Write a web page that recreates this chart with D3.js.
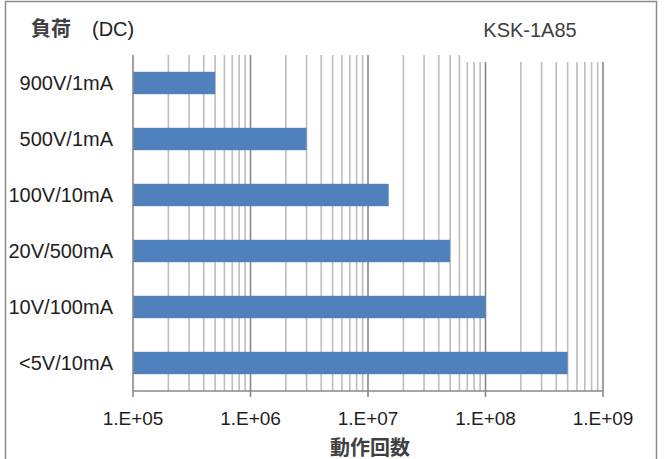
<!DOCTYPE html>
<html>
<head>
<meta charset="utf-8">
<script src="https://cdn.jsdelivr.net/npm/d3@7"></script>
<style>
  body { margin: 0; background: #fff; }
  text { font-family: "Liberation Sans", Arial, "Noto Sans CJK JP", sans-serif; }
</style>
</head>
<body>
<svg id="chart"></svg>
<script>
// load conditions, top to bottom
const categories = ["900V/1mA", "500V/1mA", "100V/10mA", "20V/500mA", "10V/100mA", "<5V/10mA"];
// operation counts
const counts = [5e5, 3e6, 1.5e7, 5e7, 1e8, 5e8];
const tickValues = [1e5, 1e6, 1e7, 1e8, 1e9];
const tickLabels = ["1.E+05", "1.E+06", "1.E+07", "1.E+08", "1.E+09"];

const width = 665, height = 459;
const margin = {top: 55, left: 133, right: 62, bottom: 68};

const svg = d3.select("#chart")
    .attr("width", width)
    .attr("height", height);

//outer frame
svg.append("rect")
    .attr("x", 5.5).attr("y", 1.5)
    .attr("width", 651).attr("height", 470)
    .attr("fill", "#fff")
    .attr("stroke", "#8c8c8c")
    .attr("stroke-width", 1.5);

const x = d3.scaleLog()
    .domain([1e5, 1e9])
    .range([margin.left, width - margin.right]);

const y = d3.scaleBand()
    .domain(categories)
    .range([margin.top, height - margin.bottom])
    .paddingInner(0.6)
    .paddingOuter(0.3);

//minor + major gridlines
const minor = [];
for (let e = 5; e < 9; e++) {
    for (let m = 2; m <= 9; m++) minor.push(m * Math.pow(10, e));
}
svg.append("g").selectAll("line")
    .data(minor)
    .enter().append("line")
    .attr("x1", d => x(d)).attr("x2", d => x(d))
    .attr("y1", margin.top).attr("y2", height - margin.bottom)
    .attr("stroke", "#bdbdbd")
    .attr("stroke-width", 1.6);

svg.append("g").selectAll("line")
    .data(tickValues.slice(1))
    .enter().append("line")
    .attr("x1", d => x(d)).attr("x2", d => x(d))
    .attr("y1", margin.top).attr("y2", height - margin.bottom + 6)
    .attr("stroke", "#888")
    .attr("stroke-width", 1.6);

//title box hides the top of the lines on the right
svg.append("rect")
    .attr("x", 464).attr("y", 8)
    .attr("width", 150).attr("height", 54)
    .attr("fill", "#fff");

//bars
svg.append("g").selectAll("rect")
    .data(categories)
    .enter().append("rect")
    .attr("x", x(1e5))
    .attr("y", d => y(d))
    .attr("width", (d, i) => x(counts[i]) - x(1e5))
    .attr("height", y.bandwidth())
    .attr("fill", "#4f81bd");

//axes lines
const axisY = height - margin.bottom;
svg.append("line")
    .attr("x1", x(1e5)).attr("x2", x(1e9))
    .attr("y1", axisY).attr("y2", axisY)
    .attr("stroke", "#888").attr("stroke-width", 1.6);
svg.append("line")
    .attr("x1", x(1e5)).attr("x2", x(1e5))
    .attr("y1", margin.top).attr("y2", axisY + 6)
    .attr("stroke", "#888").attr("stroke-width", 1.6);

//tick labels
svg.append("g").selectAll("text")
    .data(tickValues)
    .enter().append("text")
    .attr("x", d => x(d))
    .attr("y", 425)
    .attr("text-anchor", "middle")
    .style("font-size", "19px")
    .style("fill", "#1e1e1e")
    .text((d, i) => tickLabels[i]);

//category labels
svg.append("g").selectAll("text")
    .data(categories)
    .enter().append("text")
    .attr("x", 113)
    .attr("y", d => y(d) + y.bandwidth() / 2 + 7)
    .attr("text-anchor", "end")
    .style("font-size", "20px")
    .style("fill", "#1e1e1e")
    .text(d => d);

//titles
svg.append("text")
    .attr("x", 31).attr("y", 36)
    .style("font-size", "20px")
    .style("font-weight", "bold")
    .style("fill", "#404040")
    .text("負荷");
svg.append("text")
    .attr("x", 92).attr("y", 36)
    .style("font-size", "20px")
    .style("fill", "#222")
    .text("(DC)");

svg.append("text")
    .attr("x", 530).attr("y", 37)
    .attr("text-anchor", "middle")
    .style("font-size", "20px")
    .style("fill", "#404040")
    .text("KSK-1A85");

svg.append("text")
    .attr("x", 370).attr("y", 455)
    .attr("text-anchor", "middle")
    .style("font-size", "20px")
    .style("font-weight", "bold")
    .style("fill", "#404040")
    .text("動作回数");
</script>
</body>
</html>
